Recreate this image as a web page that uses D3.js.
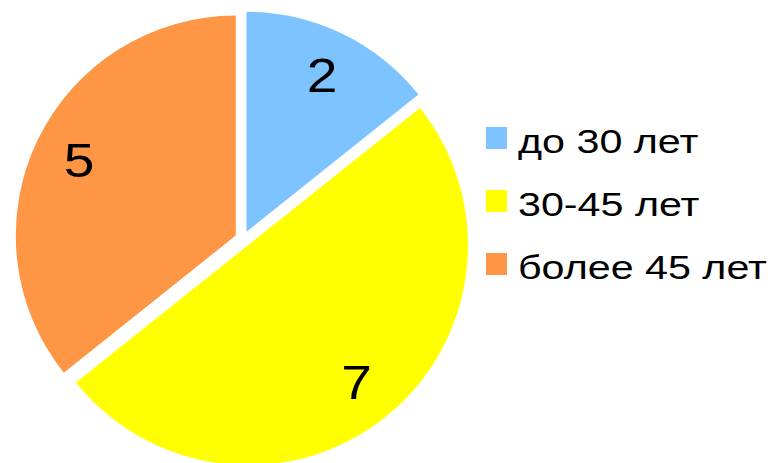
<!DOCTYPE html>
<html>
<head>
<meta charset="utf-8">
<script src="https://cdn.jsdelivr.net/npm/d3@7"></script>
<style>
  html, body { margin: 0; padding: 0; background: #fff; }
  svg { display: block; font-family: "Liberation Sans", Arial, sans-serif; }
</style>
</head>
<body>
<svg id="chart" width="780" height="463"></svg>
<script>
const categories = ["до 30 лет", "30-45 лет", "более 45 лет"];
const values = [2, 7, 5];
const colors = ["#7DC3FF", "#FFFF00", "#FF9645"];

const svg = d3.select("#chart");
const cx = 243, cy = 239, radius = 220, explode = 8, labelR = 174;

const pie = d3.pie().sort(null).value(d => d.value);
const data = categories.map((c, i) => ({ name: c, value: values[i], color: colors[i] }));
const arcs = pie(data);

const arc = d3.arc().innerRadius(0).outerRadius(radius);
const labelArc = d3.arc().innerRadius(labelR).outerRadius(labelR);

const g = svg.append("g").attr("transform", `translate(${cx},${cy})`);

const slices = g.selectAll("g.slice").data(arcs).enter().append("g")
  .attr("class", "slice")
  .attr("transform", d => {
    const mid = (d.startAngle + d.endAngle) / 2;
    return `translate(${explode * Math.sin(mid)},${-explode * Math.cos(mid)})`;
  });

slices.append("path")
  .attr("d", arc)
  .attr("fill", d => d.data.color);

slices.append("text")
  .attr("transform", d => `translate(${labelArc.centroid(d)}) scale(1.15,1)`)
  .attr("text-anchor", "middle")
  .attr("dy", "0.36em")
  .attr("font-size", 48)
  .attr("fill", "#000")
  .text(d => d.data.value);

// Legend
const legend = svg.append("g").attr("transform", "translate(486,127)");
const items = legend.selectAll("g").data(data).enter().append("g")
  .attr("transform", (d, i) => `translate(0,${i * 63})`);
items.append("rect")
  .attr("width", 21).attr("height", 22)
  .attr("fill", d => d.color);
items.append("text")
  .attr("transform", "translate(32,26) scale(1.25,1)")
  .attr("font-size", 33)
  .attr("fill", "#000")
  .text(d => d.name);
</script>
</body>
</html>
